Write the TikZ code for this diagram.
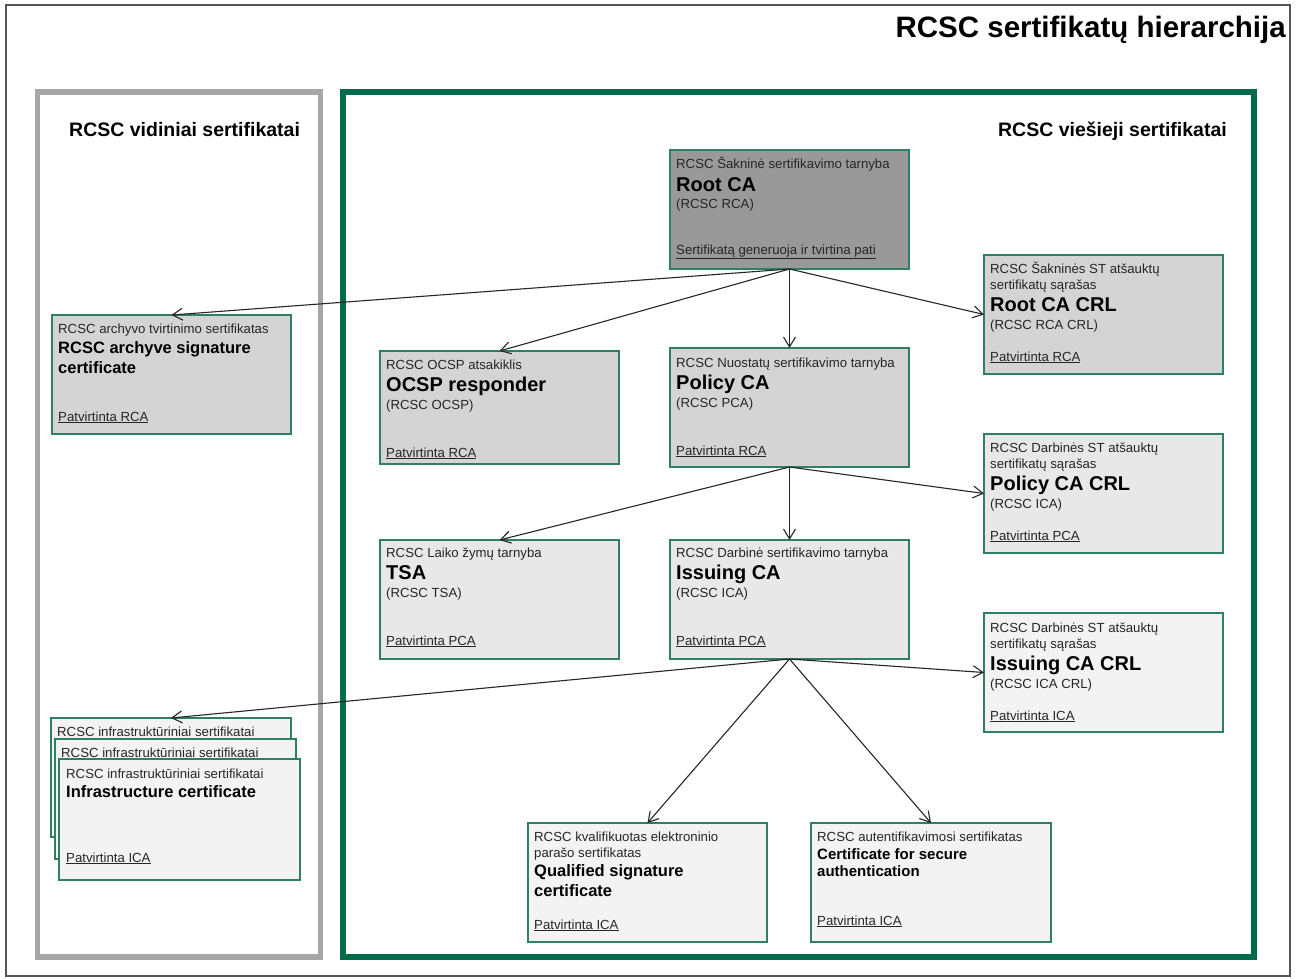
\documentclass[tikz,border=0pt]{standalone}
\usepackage{fontspec}
\setmainfont{Liberation Sans}
\usetikzlibrary{arrows.meta}
\definecolor{boxgreen}{HTML}{2F8062}
\definecolor{framegreen}{HTML}{006A4B}
\definecolor{framegray}{HTML}{A6A6A6}
\definecolor{outergray}{HTML}{555555}
\definecolor{lvA}{HTML}{999999}
\definecolor{lvB}{HTML}{D4D4D4}
\definecolor{lvC}{HTML}{E8E8E8}
\definecolor{lvD}{HTML}{F3F3F3}
\definecolor{txtgray}{HTML}{262626}
\begin{document}
\begin{tikzpicture}[x=1pt,y=-1pt,
  cbox/.style={draw=boxgreen, line width=1.9pt, anchor=north west, inner sep=0pt, outer sep=0pt, minimum width=239pt, minimum height=119pt},
  sm/.style={anchor=base west, inner sep=0pt, font=\fontsize{13.2}{15}\selectfont, text=txtgray},
  bigt/.style={anchor=base west, inner sep=0pt, font=\fontsize{20}{24}\selectfont\bfseries, text=black},
  midt/.style={anchor=base west, inner sep=0pt, font=\fontsize{16.5}{20}\selectfont\bfseries, text=black},
  secT/.style={inner sep=0pt, font=\fontsize{19.5}{23}\selectfont\bfseries, text=black},
  conn/.style={draw=black!85, line width=1.1pt, -{Straight Barb[length=10pt,width=12pt,line width=1.1pt]}}
]
\useasboundingbox (0,0) rectangle (1296,978);
\fill[white] (0,0) rectangle (1296,978);
% frames
\draw[outergray, line width=1.5pt] (6,5) rectangle (1290,976);
\node[anchor=base east, inner sep=0pt, font=\fontsize{29.5}{34}\selectfont\bfseries] (title) at (1286,37) {RCSC sertifikatų hierarchija};
\draw[framegray, line width=5.5pt] (37.5,92) rectangle (320.5,957);
\draw[framegreen, line width=5.5pt] (343,92) rectangle (1254,957);
\node[secT, anchor=base west] (hdrL) at (69,136) {RCSC vidiniai sertifikatai};
\node[secT, anchor=base east] (hdrR) at (1227,136) {RCSC viešieji sertifikatai};

% Root CA
\node[cbox, fill=lvA] (root) at (670,150) {};
\node[sm] (rootA) at (676,168) {RCSC Šakninė sertifikavimo tarnyba};
\node[bigt] (rootB) at (676,191) {Root CA};
\node[sm] (rootC) at (676,208) {(RCSC RCA)};
\node[sm] (rootD) at (676,254) {\underline{Sertifikatą generuoja ir tvirtina pati}};

% Archive
\node[cbox, fill=lvB] (arch) at (52,315) {};
\node[sm] (archA) at (58,333) {RCSC archyvo tvirtinimo sertifikatas};
\node[midt] (archB) at (58,353) {RCSC archyve signature};
\node[midt] (archC) at (58,373) {certificate};
\node[sm] (archD) at (58,421) {\underline{Patvirtinta RCA}};

% OCSP
\node[cbox, fill=lvB, minimum height=113pt] (ocsp) at (380,351) {};
\node[sm] (ocspA) at (386,369) {RCSC OCSP atsakiklis};
\node[bigt] (ocspB) at (386,391) {OCSP responder};
\node[sm] (ocspC) at (386,409) {(RCSC OCSP)};
\node[sm] (ocspD) at (386,457) {\underline{Patvirtinta RCA}};

% Policy CA
\node[cbox, fill=lvB] (pol) at (670,348) {};
\node[sm] (polA) at (676,367) {RCSC Nuostatų sertifikavimo tarnyba};
\node[bigt] (polB) at (676,389) {Policy CA};
\node[sm] (polC) at (676,407) {(RCSC PCA)};
\node[sm] (polD) at (676,455) {\underline{Patvirtinta RCA}};

% Root CA CRL
\node[cbox, fill=lvB] (rcrl) at (984,255) {};
\node[sm] (rcrlA) at (990,273) {RCSC Šakninės ST atšauktų};
\node[sm] (rcrlB) at (990,289) {sertifikatų sąrašas};
\node[bigt] (rcrlC) at (990,311) {Root CA CRL};
\node[sm] (rcrlD) at (990,329) {(RCSC RCA CRL)};
\node[sm] (rcrlE) at (990,361) {\underline{Patvirtinta RCA}};

% Policy CA CRL
\node[cbox, fill=lvC] (pcrl) at (984,434) {};
\node[sm] (pcrlA) at (990,452) {RCSC Darbinės ST atšauktų};
\node[sm] (pcrlB) at (990,468) {sertifikatų sąrašas};
\node[bigt] (pcrlC) at (990,490) {Policy CA CRL};
\node[sm] (pcrlD) at (990,508) {(RCSC ICA)};
\node[sm] (pcrlE) at (990,540) {\underline{Patvirtinta PCA}};

% TSA
\node[cbox, fill=lvC] (tsa) at (380,540) {};
\node[sm] (tsaA) at (386,557) {RCSC Laiko žymų tarnyba};
\node[bigt] (tsaB) at (386,579) {TSA};
\node[sm] (tsaC) at (386,597) {(RCSC TSA)};
\node[sm] (tsaD) at (386,645) {\underline{Patvirtinta PCA}};

% Issuing CA
\node[cbox, fill=lvC] (iss) at (670,540) {};
\node[sm] (issA) at (676,557) {RCSC Darbinė sertifikavimo tarnyba};
\node[bigt] (issB) at (676,579) {Issuing CA};
\node[sm] (issC) at (676,597) {(RCSC ICA)};
\node[sm] (issD) at (676,645) {\underline{Patvirtinta PCA}};

% Issuing CA CRL
\node[cbox, fill=lvD] (icrl) at (984,613) {};
\node[sm] (icrlA) at (990,632) {RCSC Darbinės ST atšauktų};
\node[sm] (icrlB) at (990,648) {sertifikatų sąrašas};
\node[bigt] (icrlC) at (990,670) {Issuing CA CRL};
\node[sm] (icrlD) at (990,688) {(RCSC ICA CRL)};
\node[sm] (icrlE) at (990,720) {\underline{Patvirtinta ICA}};

% Infrastructure stack
\node[cbox, fill=lvD, minimum width=240pt, minimum height=119pt] (inf1) at (51,718) {};
\node[sm] (inf1A) at (57,736) {RCSC infrastruktūriniai sertifikatai};
\node[cbox, fill=lvD, minimum width=241pt, minimum height=120pt] (inf2) at (55,739) {};
\node[sm] (inf2A) at (61,757) {RCSC infrastruktūriniai sertifikatai};
\node[cbox, fill=lvD, minimum width=241pt, minimum height=121pt] (inf3) at (59,759) {};
\node[sm] (inf3A) at (66,778) {RCSC infrastruktūriniai sertifikatai};
\node[midt] (inf3B) at (66,797) {Infrastructure certificate};
\node[sm] (inf3C) at (66,862) {\underline{Patvirtinta ICA}};

% Qualified signature
\node[cbox, fill=lvD] (qual) at (528,823) {};
\node[sm] (qualA) at (534,841) {RCSC kvalifikuotas elektroninio};
\node[sm] (qualB) at (534,857) {parašo sertifikatas};
\node[midt] (qualC) at (534,876) {Qualified signature};
\node[midt] (qualD) at (534,896) {certificate};
\node[sm] (qualE) at (534,929) {\underline{Patvirtinta ICA}};

% Secure authentication
\node[cbox, fill=lvD, minimum width=240pt] (auth) at (811,823) {};
\node[sm] (authA) at (817,841) {RCSC autentifikavimosi sertifikatas};
\node[midt, font=\fontsize{15}{18}\selectfont\bfseries] (authB) at (817,859) {Certificate for secure};
\node[midt, font=\fontsize{15}{18}\selectfont\bfseries] (authC) at (817,876) {authentication};
\node[sm] (authD) at (817,925) {\underline{Patvirtinta ICA}};

% connectors
\draw[conn] (root.south) -- (arch.north);
\draw[conn] (root.south) -- (ocsp.north);
\draw[conn] (root.south) -- (pol.north);
\draw[conn] (root.south) -- (rcrl.west);
\draw[conn] (pol.south) -- (tsa.north);
\draw[conn] (pol.south) -- (iss.north);
\draw[conn] (pol.south) -- (pcrl.west);
\draw[conn] (iss.south) -- (inf1.north);
\draw[conn] (iss.south) -- (icrl.west);
\draw[conn] (iss.south) -- (qual.north);
\draw[conn] (iss.south) -- (auth.north);
\end{tikzpicture}
\end{document}
